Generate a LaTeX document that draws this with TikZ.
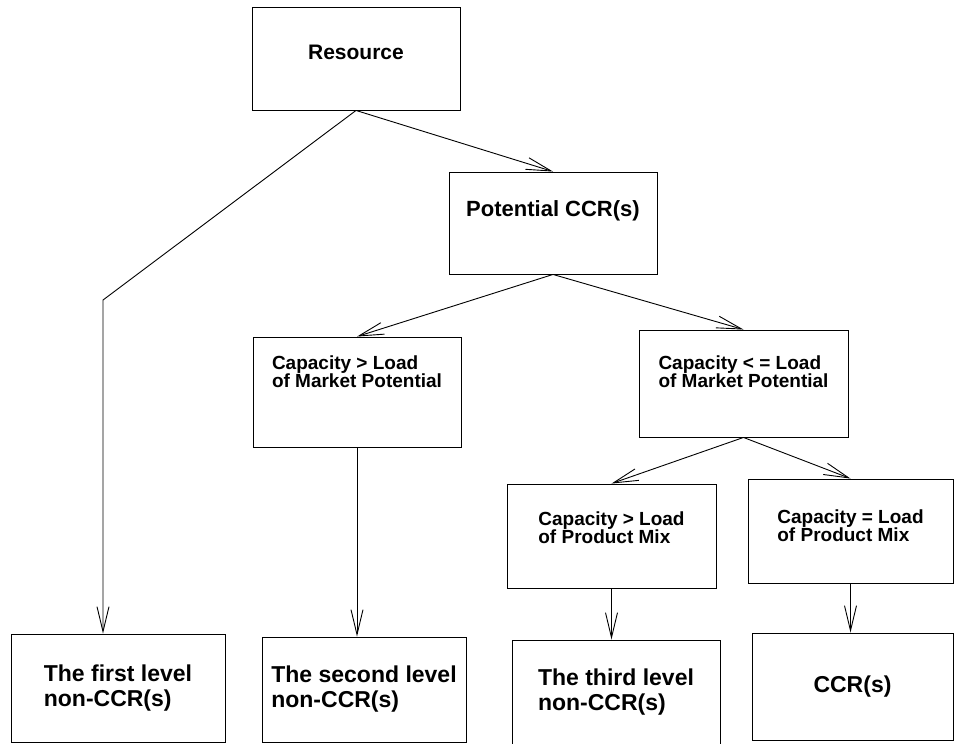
\documentclass[tikz,border=0pt]{standalone}
\usepackage{fontspec}
\setmainfont{Liberation Sans}
\usepackage{tikz}
\usetikzlibrary{arrows.meta,positioning}

\begin{document}
\begin{tikzpicture}[
  x=1pt, y=-1pt,
  every node/.style={font=\bfseries},
  box/.style={draw, line width=0.9pt, align=left, inner sep=0pt},
  lift/.style={text depth=#1},
  head/.style={font=\fontsize{21}{21}\selectfont\bfseries},
  cond/.style={font=\fontsize{19}{18}\selectfont\bfseries},
  leaf/.style={font=\fontsize{23}{25}\selectfont\bfseries},
  arrow/.style={-{Straight Barb[length=25pt, width=12pt, line width=0.9pt]}, line width=0.9pt}
]
  \useasboundingbox (0,0) rectangle (954,744);

  % top of the tree
  \node[box, head, lift=12pt, minimum width=208pt, minimum height=103pt] (res) at (356,58.5) {Resource};
  \node[box, head, lift=28pt, font=\fontsize{22}{22}\selectfont\bfseries, minimum width=208pt, minimum height=102pt] (pot) at (553,223) {Potential CCR(s)};

  % conditions
  \node[box, cond, lift=40pt, minimum width=208pt, minimum height=110pt] (cmp) at (357,392) {Capacity > Load\\of Market Potential};
  \node[box, cond, lift=24pt, minimum width=209pt, minimum height=107pt] (cle) at (743.5,383.5) {Capacity < = Load\\of Market Potential};
  \node[box, cond, lift=16pt, minimum width=209pt, minimum height=104pt] (cpm) at (611.5,536) {Capacity > Load\\of Product Mix};
  \node[box, cond, lift=10pt, minimum width=205pt, minimum height=104pt] (cem) at (850.5,531) {Capacity = Load\\of Product Mix};

  % results
  \node[box, leaf, minimum width=214pt, minimum height=108pt] (fst) at (118,688) {The first level\\non-CCR(s)};
  \node[box, leaf, minimum width=204pt, minimum height=105pt] (snd) at (364,689.5) {The second level\\non-CCR(s)};
  \node[box, leaf, minimum width=208pt, minimum height=104pt] (trd) at (616,692) {The third level\\non-CCR(s)};
  \node[box, leaf, minimum width=201pt, minimum height=107pt] (ccr) at (852.5,686.5) {CCR(s)};

  \coordinate (bend) at (103,300);

  \draw[arrow] (res.south) -- (pot.north);
  \draw[arrow] (res.south) -- (bend) -- (bend |- fst.north);
  \draw[arrow] (pot.south) -- (cmp.north);
  \draw[arrow] (pot.south) -- (cle.north);
  \draw[arrow] (cmp.south) -- (cmp.south |- snd.north);
  \draw[arrow] (cle.south) -- (cpm.north);
  \draw[arrow] (cle.south) -- (cem.north);
  \draw[arrow] (cpm.south) -- (cpm.south |- trd.north);
  \draw[arrow] (cem.south) -- (cem.south |- ccr.north);
\end{tikzpicture}
\end{document}
